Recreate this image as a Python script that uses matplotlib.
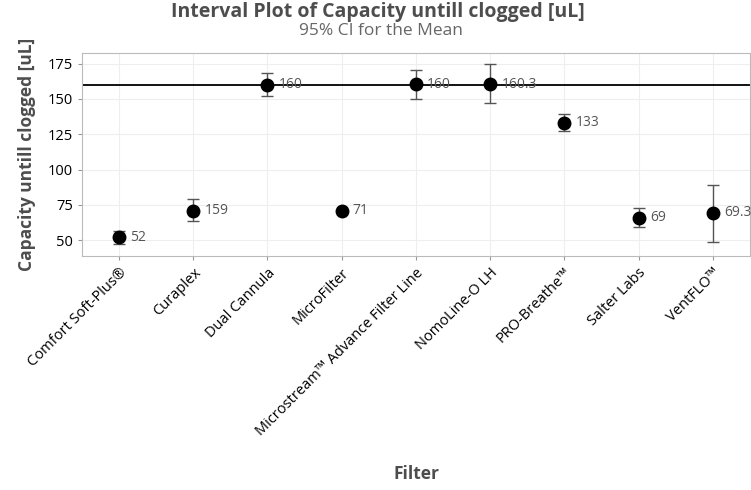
import matplotlib.pyplot as plt
import numpy as np

plt.rcParams['font.family'] = ['Open Sans', 'DejaVu Sans']

# data
filters = ['Comfort Soft-Plus®', 'Curaplex', 'Dual Cannula', 'MicroFilter',
           'Microstream™ Advance Filter Line', 'NomoLine-O LH', 'PRO-Breathe™',
           'Salter Labs', 'VentFLO™']
means = [52, 71, 160, 71, 160.5, 160.3, 133, 66, 69.5]
ci_low = [47, 63.7, 152, 70.5, 150, 147.4, 127.5, 59.4, 49]
ci_high = [56.6, 79, 168, 71.5, 170.6, 175, 139.6, 72.5, 89]
labels = ['52', '159', '160', '71', '160', '160.3', '133', '69', '69.3']
ref_line = 160

x = np.arange(len(filters))
means = np.array(means)
err = [means - np.array(ci_low), np.array(ci_high) - means]

fig = plt.figure(figsize=(7.51, 4.9), dpi=100)
ax = fig.add_axes([0.109, 0.478, 0.8897, 0.414])

ax.errorbar(x, means, yerr=err, fmt='none', ecolor='#555555', elinewidth=1,
            capsize=4, capthick=1, zorder=3)
ax.plot(x, means, 'o', color='black', markersize=9, zorder=4)
ax.axhline(ref_line, color='black', linewidth=1.3, zorder=2)

for xi, yi, lab in zip(x, means, labels):
    ax.annotate(lab, (xi, yi), xytext=(8, 0), textcoords='offset points',
                va='center', ha='left', fontsize=10, color='#555555', zorder=5)

ax.set_xlim(-0.5, 8.5)
ax.set_ylim(39, 182.5)
ax.set_yticks([50, 75, 100, 125, 150, 175])
ax.set_xticks(x)
ax.set_xticklabels(filters, rotation=45, ha='right', rotation_mode='anchor',
                   fontsize=10.5)
ax.tick_params(axis='y', labelsize=10.5, length=3, color='#999999')
ax.tick_params(axis='x', length=3, color='#999999', pad=4)
ax.grid(True, color='#eeeeee', linewidth=0.8)
ax.set_axisbelow(True)
for s in ax.spines.values():
    s.set_color('#bbbbbb')

ax.set_ylabel('Capacity untill clogged [uL]', fontsize=12.5, fontweight='bold',
              color='#4d4d4d', labelpad=8)
fig.text(0.555, 0.022, 'Filter', ha='center', fontsize=12.5, fontweight='bold',
         color='#4d4d4d')
fig.text(0.503, 0.975, 'Interval Plot of Capacity untill clogged [uL]', ha='center',
         va='center', fontsize=14, fontweight='bold', color='#4d4d4d')
fig.text(0.507, 0.937, '95% CI for the Mean', ha='center', va='center',
         fontsize=12.5, color='#666666')

fig.savefig('out.png', dpi=100)
